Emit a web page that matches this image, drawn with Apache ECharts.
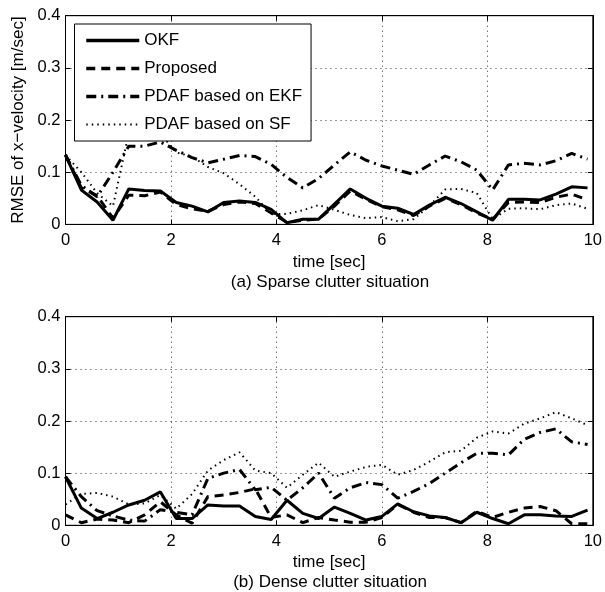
<!DOCTYPE html>
<html>
<head>
<meta charset="utf-8">
<title>RMSE of x-velocity</title>
<script src="https://cdn.jsdelivr.net/npm/echarts@6/dist/echarts.min.js"></script>
<style>
  html, body { margin: 0; padding: 0; background: #fff; }
  #chart { width: 605px; height: 592px; }
</style>
</head>
<body>
<div id="chart"></div>
<script>
// sample times [sec]
const times = [0, 0.3, 0.6, 0.9, 1.2, 1.5, 1.8, 2.1, 2.4, 2.7, 3.0, 3.3, 3.6, 3.9, 4.2, 4.5, 4.8,
  5.1, 5.4, 5.7, 6.0, 6.3, 6.6, 6.9, 7.2, 7.5, 7.8, 8.1, 8.4, 8.7, 9.0, 9.3, 9.6, 9.9];

const seriesNames = ['OKF', 'Proposed', 'PDAF based on EKF', 'PDAF based on SF'];

// (a) sparse clutter
const okfSparse = [0.133, 0.066, 0.043, 0.008, 0.068, 0.065, 0.064, 0.042, 0.035, 0.024,
  0.042, 0.045, 0.042, 0.029, 0.003, 0.010, 0.010, 0.039, 0.068, 0.050,
  0.035, 0.031, 0.019, 0.037, 0.052, 0.040, 0.024, 0.008, 0.048, 0.048,
  0.047, 0.058, 0.072, 0.070];
const proposedSparse = [0.133, 0.070, 0.055, 0.012, 0.056, 0.055, 0.062, 0.038, 0.030, 0.025,
  0.038, 0.043, 0.040, 0.022, 0.004, 0.008, 0.010, 0.035, 0.064, 0.048,
  0.034, 0.028, 0.017, 0.035, 0.050, 0.038, 0.022, 0.010, 0.042, 0.043,
  0.042, 0.052, 0.058, 0.047];
const ekfSparse = [0.133, 0.075, 0.053, 0.100, 0.150, 0.150, 0.158, 0.142, 0.128, 0.118,
  0.125, 0.132, 0.130, 0.115, 0.090, 0.070, 0.088, 0.114, 0.139, 0.123,
  0.112, 0.104, 0.096, 0.114, 0.131, 0.120, 0.104, 0.066, 0.114, 0.117,
  0.114, 0.122, 0.136, 0.125];
const sfSparse = [0.133, 0.100, 0.060, 0.035, 0.175, 0.168, 0.174, 0.138, 0.130, 0.110,
  0.098, 0.077, 0.053, 0.020, 0.020, 0.027, 0.037, 0.028, 0.018, 0.012,
  0.014, 0.006, 0.010, 0.035, 0.067, 0.068, 0.060, 0.010, 0.030, 0.031,
  0.029, 0.037, 0.040, 0.030];

// (b) dense clutter
const okfDense = [0.093, 0.033, 0.013, 0.025, 0.039, 0.048, 0.064, 0.013, 0.013, 0.039,
  0.037, 0.037, 0.017, 0.011, 0.048, 0.023, 0.013, 0.035, 0.023, 0.010,
  0.017, 0.041, 0.026, 0.018, 0.015, 0.005, 0.025, 0.013, 0.003, 0.020,
  0.020, 0.018, 0.017, 0.029];
const proposedDense = [0.020, 0.005, 0.012, 0.010, 0.005, 0.020, 0.045, 0.020, 0.004, 0.055,
  0.058, 0.063, 0.070, 0.015, 0.020, 0.005, 0.015, 0.010, 0.006, 0.006,
  0.015, 0.040, 0.025, 0.015, 0.015, 0.005, 0.027, 0.015, 0.025, 0.033,
  0.036, 0.028, 0.003, 0.003];
const ekfDense = [0.093, 0.055, 0.028, 0.018, 0.010, 0.008, 0.030, 0.025, 0.020, 0.090,
  0.100, 0.107, 0.068, 0.073, 0.048, 0.072, 0.100, 0.052, 0.072, 0.082,
  0.078, 0.052, 0.065, 0.080, 0.100, 0.120, 0.138, 0.138, 0.135, 0.165,
  0.178, 0.185, 0.160, 0.155];
const sfDense = [0.040, 0.060, 0.062, 0.055, 0.040, 0.042, 0.058, 0.032, 0.060, 0.105,
  0.125, 0.140, 0.105, 0.100, 0.072, 0.097, 0.120, 0.093, 0.103, 0.112,
  0.116, 0.097, 0.106, 0.122, 0.140, 0.143, 0.168, 0.180, 0.176, 0.195,
  0.205, 0.217, 0.205, 0.192];

const font = "'Liberation Sans', Arial, Helvetica, sans-serif";

// line looks, matlab style
const lineLooks = [
  { color: '#000', width: 3, type: 'solid' },
  { color: '#000', width: 3, type: [9, 6] },
  { color: '#000', width: 3, type: [10, 5, 2, 5] },
  { color: '#000', width: 2, type: [1.5, 4] }
];

const grids = [
  { left: 65.5, width: 529.5, top: 15.7, height: 208.7 },
  { left: 65.5, width: 529.5, top: 316.7, height: 208.6 }
];

function pairs(vals) {
  return times.map((t, i) => [t, vals[i]]);
}

const gridLine = { show: true, lineStyle: { color: '#333', width: 1, type: [1, 4] } };
const axisLine = { show: true, onZero: false, lineStyle: { color: '#000', width: 1 } };
const tickIn = { show: true, inside: true, length: 5, lineStyle: { color: '#000' } };
const labelStyle = { color: '#000', fontFamily: font, fontSize: 16.5 };

const xAxes = [];
const yAxes = [];
grids.forEach((g, i) => {
  // bottom & left axes carry labels, top & right are just the box with ticks
  xAxes.push({
    type: 'value', gridIndex: i, position: 'bottom', min: 0, max: 10, interval: 2,
    axisLine, axisTick: tickIn, splitLine: gridLine,
    axisLabel: Object.assign({ margin: 8 }, labelStyle),
    name: 'time [sec]', nameLocation: 'middle', nameGap: 29,
    nameTextStyle: { color: '#000', fontFamily: font, fontSize: 17 }
  });
  xAxes.push({
    type: 'value', gridIndex: i, position: 'top', min: 0, max: 10, interval: 2,
    axisLine, axisTick: tickIn, splitLine: { show: false }, axisLabel: { show: false }
  });
  yAxes.push({
    type: 'value', gridIndex: i, position: 'left', min: 0, max: 0.4, interval: 0.1,
    axisLine, axisTick: tickIn, splitLine: gridLine,
    axisLabel: Object.assign({ margin: 5 }, labelStyle),
    name: i === 0 ? 'RMSE of x\u2212velocity [m/sec]' : '',
    nameLocation: 'middle', nameGap: 39, nameRotate: 90,
    nameTextStyle: { color: '#000', fontFamily: font, fontSize: 17 }
  });
  yAxes.push({
    type: 'value', gridIndex: i, position: 'right', min: 0, max: 0.4, interval: 0.1,
    axisLine, axisTick: tickIn, splitLine: { show: false }, axisLabel: { show: false }
  });
});

const panels = [
  [okfSparse, proposedSparse, ekfSparse, sfSparse],
  [okfDense, proposedDense, ekfDense, sfDense]
];

const series = [];
panels.forEach((set, i) => {
  set.forEach((vals, k) => {
    series.push({
      name: seriesNames[k],
      type: 'line',
      xAxisIndex: 2 * i,
      yAxisIndex: 2 * i,
      data: pairs(vals),
      symbol: 'none',
      showSymbol: false,
      lineStyle: lineLooks[k],
      itemStyle: { color: '#000' },
      z: 3 + (3 - k)
    });
  });
});

// legend keys: thicker strokes like the matlab legend
const legendKeys = seriesNames.map((n, k) => ({
  name: n,
  lineStyle: { width: k === 3 ? 2 : 3.5, type: lineLooks[k].type, color: '#000' }
}));

const option = {
  animation: false,
  backgroundColor: '#fff',
  grid: grids.map(g => Object.assign({ show: true, borderColor: '#000', borderWidth: 1, backgroundColor: '#fff' }, g)),
  xAxis: xAxes,
  yAxis: yAxes,
  legend: {
    data: legendKeys,
    orient: 'vertical',
    left: 74.5,
    top: 24,
    padding: [8, 9, 8, 10],
    itemWidth: 53,
    itemHeight: 14,
    itemGap: 11,
    // hide the marker dot that echarts puts on line icons
    itemStyle: { opacity: 0 },
    borderColor: '#000',
    borderWidth: 1,
    backgroundColor: '#fff',
    textStyle: { color: '#000', fontFamily: font, fontSize: 17 }
  },
  graphic: [
    { type: 'text', x: 330, y: 282, style: { text: '(a) Sparse clutter situation', fill: '#000', font: '17px ' + font, textAlign: 'center', textVerticalAlign: 'middle' } },
    { type: 'text', x: 330, y: 582, style: { text: '(b) Dense clutter situation', fill: '#000', font: '17px ' + font, textAlign: 'center', textVerticalAlign: 'middle' } }
  ],
  series
};

echarts.init(document.getElementById('chart')).setOption(option);
</script>
</body>
</html>
